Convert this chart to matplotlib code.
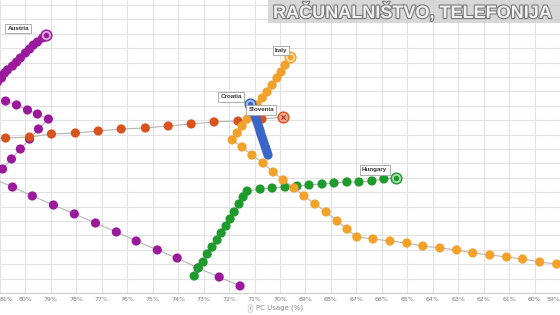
import matplotlib.pyplot as plt
import matplotlib.patheffects as pe

# trails (x = PC usage %, y = gridline units, unlabeled axis)
austria_x = [81.10, 80.94, 80.82, 80.71, 80.51, 80.35, 80.20, 80.00, 79.84, 79.69, 79.53, 79.33, 79.18]
austria_y = [14.65, 14.93, 15.28, 15.49, 15.76, 16.04, 16.32, 16.67, 16.94, 17.22, 17.43, 17.71, 17.92]

purple_b_x = [80.78, 80.35, 79.92, 79.53, 79.10, 79.49, 79.84, 80.20, 80.55, 80.90, 81.25]
purple_b_y = [13.33, 13.06, 12.71, 12.43, 12.08, 11.39, 10.69, 10.00, 9.31, 8.61, 7.92]

purple_c_x = [81.33, 80.51, 79.73, 78.90, 78.08, 77.25, 76.43, 75.65, 74.82, 74.04, 73.22, 72.39, 71.57]
purple_c_y = [7.99, 7.36, 6.74, 6.11, 5.49, 4.86, 4.24, 3.61, 2.99, 2.43, 1.74, 1.11, 0.49]

slovenia_x = [81.69, 80.78, 79.84, 78.98, 78.04, 77.14, 76.24, 75.29, 74.39, 73.49, 72.59, 71.65, 70.71, 69.88]
slovenia_y = [10.63, 10.76, 10.83, 11.04, 11.11, 11.25, 11.39, 11.46, 11.60, 11.74, 11.88, 11.94, 12.08, 12.22]

croatia_x = [70.47, 70.51, 70.55, 70.59, 70.63, 70.67, 70.71, 70.75, 70.78, 70.82, 70.86, 70.90,
             70.94, 70.98, 71.02, 71.06, 71.18]
croatia_y = [9.58, 9.79, 10.00, 10.21, 10.42, 10.63, 10.83, 11.04, 11.25, 11.46, 11.67, 11.88,
             12.08, 12.29, 12.50, 12.71, 13.13]

italy_x = [58.47, 59.13, 59.80, 60.47, 61.10, 61.76, 62.43, 63.06, 63.72, 64.39, 65.02, 65.68, 66.35,
           66.98, 67.37, 67.76, 68.19, 68.63, 69.06, 69.45, 69.88, 70.27, 70.67, 71.10, 71.49, 71.88,
           71.68, 71.49, 71.29, 71.10, 70.90, 70.70, 70.51, 70.31, 70.12, 69.96, 69.80, 69.61]
italy_y = [1.88, 2.01, 2.15, 2.36, 2.50, 2.64, 2.78, 2.99, 3.13, 3.26, 3.47, 3.61, 3.75,
           3.89, 4.44, 5.00, 5.63, 6.18, 6.74, 7.29, 7.85, 8.40, 9.03, 9.58, 10.14, 10.63,
           11.11, 11.60, 12.08, 12.57, 13.06, 13.54, 13.96, 14.44, 14.93, 15.35, 15.83, 16.39]

hungary_x = [73.37, 73.21, 73.02, 72.86, 72.67, 72.47, 72.31, 72.12, 71.96, 71.80, 71.61, 71.45, 71.29,
             70.78, 70.31, 69.80, 69.33, 68.86, 68.35, 67.88, 67.37, 66.90, 66.39, 65.92, 65.45]
hungary_y = [1.18, 1.74, 2.15, 2.71, 3.19, 3.68, 4.17, 4.65, 5.14, 5.63, 6.18, 6.67, 7.08,
             7.22, 7.29, 7.36, 7.43, 7.50, 7.57, 7.64, 7.71, 7.71, 7.78, 7.92, 7.99]

tick_values = list(range(59, 82))
tick_labels = [f"{v}%" for v in tick_values]

# label text, position (x, y) of the label box
labels = {
    "Austria": (80.28, 18.35),
    "Italy": (69.96, 16.85),
    "Croatia": (71.92, 13.62),
    "Slovenia": (70.74, 12.71),
    "Hungary": (66.28, 8.55),
}

purple = "#9b1a9b"
orange = "#f2a12a"
red = "#d9531e"
green = "#1f9a2c"
blue = "#3a66c8"

fig = plt.figure(figsize=(5.6, 3.15), dpi=100)
ax = fig.add_axes([0, 22 / 315, 1, 293 / 315])
ax.set_xlim(80.98, 59.02)
ax.set_ylim(0, 293 / 14.4)

ax.set_xticks(tick_values)
ax.set_xticklabels(tick_labels, fontsize=4.5, color="#777777")
# edge labels are half cut in the source; keep them inside the picture
for lab in ax.get_xticklabels():
    if lab.get_text() == "81%":
        lab.set_ha("left")
    elif lab.get_text() == "59%":
        lab.set_ha("right")
ax.set_yticks(range(0, 21))
ax.set_yticklabels([])
ax.tick_params(length=0, pad=3)
ax.grid(True, color="#e2e2e2", lw=0.8)
ax.set_axisbelow(True)
for s in ["top", "left", "right"]:
    ax.spines[s].set_visible(False)
ax.spines["bottom"].set_color("#cccccc")
ax.spines["bottom"].set_linewidth(0.8)

series = [
    (purple_c_x, purple_c_y, purple, 3),
    (hungary_x, hungary_y, green, 4),
    (austria_x, austria_y, purple, 5),
    (purple_b_x, purple_b_y, purple, 5),
    (slovenia_x, slovenia_y, red, 6),
    (italy_x, italy_y, orange, 7),
    (croatia_x, croatia_y, blue, 8),
]
for xs, ys, c, z in series:
    ax.plot(xs, ys, color="#b5b5b5", lw=0.8, zorder=z - 0.5)
    ax.scatter(xs, ys, s=44, color=c, edgecolors="none", zorder=z)

# trail end markers
ends = [
    (austria_x[-1], austria_y[-1], purple, "#d9a6d9"),
    (italy_x[-1], italy_y[-1], orange, "#f8d9a0"),
    (croatia_x[-1], croatia_y[-1], blue, "#a8bce6"),
    (hungary_x[-1], hungary_y[-1], green, "#a8d8ad"),
]
for x, y, c, light in ends:
    ax.scatter([x], [y], s=60, color=light, edgecolors=c, linewidths=1.0, zorder=9)
    ax.scatter([x], [y], s=8, color=c, zorder=10)
ax.scatter([slovenia_x[-1]], [slovenia_y[-1]], s=60, color="#eba592", edgecolors=red,
           linewidths=1.0, zorder=9)
ax.scatter([slovenia_x[-1]], [slovenia_y[-1]], s=10, marker="x", color="#a83a1a",
           linewidths=0.8, zorder=10)

for name, (x, y) in labels.items():
    ax.text(x, y, name, fontsize=4.5, fontweight="bold", color="#333333",
            family="Liberation Sans", ha="center", va="center", zorder=12,
            bbox=dict(boxstyle="square,pad=0.35", fc="white", ec="#a0a0a0", lw=0.6))

# axis title
fig.text(0.5, 0.0125, "PC Usage (%)", fontsize=5, color="#888888", ha="center", va="bottom")
fig.text(0.447, 0.0125, "i", fontsize=3.5, color="#888888", ha="center", va="bottom",
         bbox=dict(boxstyle="round,pad=0.3", fc="#eeeeee", ec="#cccccc", lw=0.4))

# watermark banner
fig.patches.append(plt.Rectangle((268 / 560, 1 - 23 / 315), 1, 23 / 315,
                                 transform=fig.transFigure, fc="#cccccc", alpha=0.75,
                                 ec="none", zorder=20))
fig.text(273 / 560, 1 - 12 / 315, "RAČUNALNIŠTVO, TELEFONIJA", fontsize=13,
         fontweight="bold", family="Liberation Sans", color="#f2f2f2",
         ha="left", va="center", zorder=21,
         path_effects=[pe.withStroke(linewidth=1.6, foreground="#7a7a7a")])

fig.savefig("out.png", dpi=100, facecolor="white")
